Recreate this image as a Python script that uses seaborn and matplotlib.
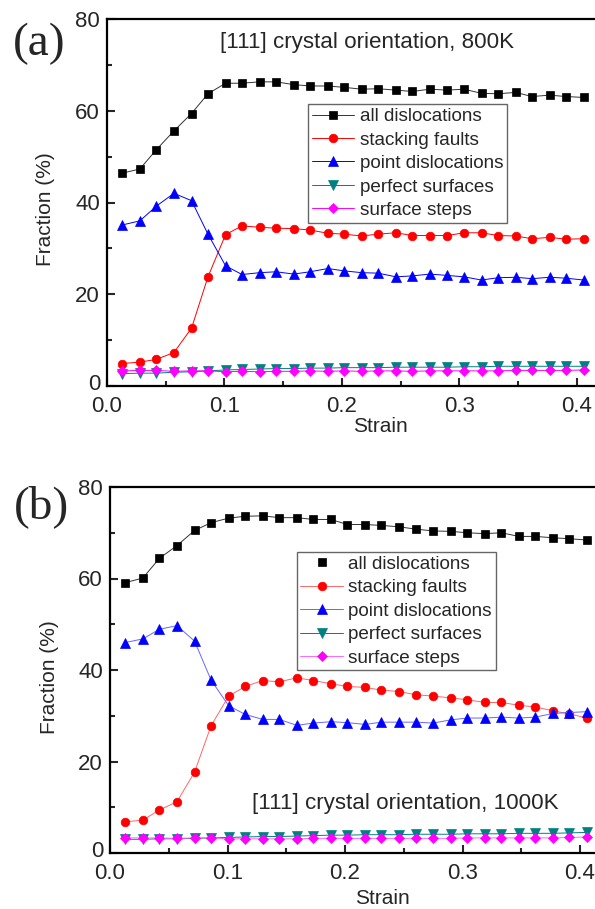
import matplotlib
matplotlib.use("Agg")
import matplotlib.pyplot as plt
from matplotlib.ticker import MultipleLocator, FormatStrFormatter, FixedLocator
from matplotlib.transforms import ScaledTranslation
import seaborn as sns

sns.set_style("white")
plt.rcParams['font.family'] = ['Liberation Sans', 'DejaVu Sans']

strain = [0.013, 0.028, 0.042, 0.057, 0.072, 0.086, 0.101, 0.115, 0.130, 0.144,
          0.159, 0.173, 0.188, 0.202, 0.217, 0.231, 0.246, 0.260, 0.275, 0.290,
          0.304, 0.319, 0.333, 0.348, 0.362, 0.377, 0.391, 0.406]

# panel (a) 800K
all_a = [46.4, 47.3, 51.5, 55.6, 59.4, 63.7, 66.0, 66.0, 66.3, 66.3, 65.7, 65.4, 65.4, 65.1,
         64.7, 64.8, 64.5, 64.2, 64.7, 64.5, 64.7, 63.8, 63.7, 64.0, 63.1, 63.4, 63.1, 62.9]
sf_a = [4.9, 5.2, 5.8, 7.3, 12.6, 23.8, 33.0, 34.9, 34.6, 34.4, 34.3, 34.0, 33.3, 33.1,
        32.7, 33.1, 33.4, 32.8, 32.8, 32.8, 33.4, 33.4, 32.8, 32.7, 32.1, 32.4, 32.0, 32.1]
pd_a = [35.1, 36.0, 39.2, 42.0, 40.4, 33.1, 26.2, 24.3, 24.7, 24.9, 24.4, 24.9, 25.6, 25.1,
        24.7, 24.6, 23.8, 24.0, 24.4, 24.1, 23.8, 23.1, 23.6, 23.7, 23.4, 23.7, 23.5, 23.1]
ps_a = [2.7, 2.8, 2.8, 3.0, 3.1, 3.3, 3.5, 3.6, 3.7, 3.8, 3.8, 3.9, 3.9, 4.0,
        4.0, 4.0, 4.1, 4.1, 4.1, 4.1, 4.2, 4.2, 4.3, 4.3, 4.3, 4.3, 4.3, 4.3]
ss_a = [3.3, 3.4, 3.4, 3.2, 3.3, 3.3, 3.1, 3.2, 3.1, 3.2, 3.2, 3.3, 3.2, 3.3,
        3.2, 3.3, 3.3, 3.2, 3.3, 3.3, 3.3, 3.3, 3.3, 3.4, 3.4, 3.4, 3.4, 3.5]

# panel (b) 1000K
all_b = [59.1, 60.1, 64.4, 67.2, 70.5, 72.2, 73.2, 73.6, 73.7, 73.3, 73.3, 72.9, 72.9, 71.8,
         71.8, 71.6, 71.3, 70.8, 70.4, 70.3, 70.0, 69.8, 70.0, 69.2, 69.2, 68.9, 68.7, 68.4]
sf_b = [6.8, 7.2, 9.4, 11.2, 17.7, 27.8, 34.3, 36.4, 37.7, 37.4, 38.3, 37.7, 37.0, 36.4,
        36.2, 35.6, 35.3, 34.6, 34.3, 33.9, 33.5, 32.9, 32.9, 32.3, 31.9, 31.1, 30.4, 29.5]
pd_b = [46.0, 46.8, 48.9, 49.7, 46.3, 37.8, 32.2, 30.3, 29.2, 29.2, 27.9, 28.4, 28.7, 28.5,
        28.1, 28.6, 28.6, 28.6, 28.4, 29.1, 29.5, 29.5, 29.7, 29.5, 29.7, 30.5, 30.7, 30.9]
ps_b = [3.0, 3.0, 3.1, 3.1, 3.2, 3.3, 3.4, 3.5, 3.6, 3.6, 3.7, 3.8, 3.9, 3.9,
        4.0, 4.0, 4.0, 4.1, 4.1, 4.1, 4.2, 4.2, 4.2, 4.3, 4.3, 4.3, 4.4, 4.5]
ss_b = [3.3, 3.3, 3.3, 3.2, 3.3, 3.3, 3.1, 3.1, 3.1, 3.1, 3.1, 3.2, 3.2, 3.2,
        3.2, 3.2, 3.2, 3.2, 3.2, 3.2, 3.3, 3.3, 3.3, 3.3, 3.3, 3.3, 3.4, 3.5]

labels = ["all dislocations", "stacking faults", "point dislocations",
          "perfect surfaces", "surface steps"]
colors = ["#000000", "#FF0000", "#0000FF", "#008080", "#FF00FF"]
markers = ["s", "o", "^", "v", "D"]
msizes = [5.2, 6.2, 7.0, 7.0, 5.6]
yticks = [0, 20, 40, 60, 80]

fig = plt.figure(figsize=(5.95, 9.09), dpi=100)
W, H = 595.0, 909.0

def make_axes(left_px, top_px, bottom_px, px_per_01):
    xmax = 0.42
    width_px = xmax / 0.1 * px_per_01
    ax = fig.add_axes([left_px / W, 1 - bottom_px / H, width_px / W, (bottom_px - top_px) / H])
    ax.set_xlim(0, xmax)
    ax.set_ylim(0, 80)
    return ax

ax_a = make_axes(107, 19, 386, 117.4)
ax_b = make_axes(110, 487, 853, 117.5)

def draw(ax, series, line_colors):
    for vals, lab, c, lc, m, ms in zip(series, labels, colors, line_colors, markers, msizes):
        sns.lineplot(x=strain, y=vals, ax=ax, color=lc, marker=m, markersize=ms,
                     markerfacecolor=c, markeredgecolor=c, markeredgewidth=0.5,
                     linewidth=0.7, label=lab)

draw(ax_a, [all_a, sf_a, pd_a, ps_a, ss_a], ["#333333", "#FF0000", "#0000FF", "#008080", "#FF00FF"])
draw(ax_b, [all_b, sf_b, pd_b, ps_b, ss_b], ["#333333", "#FF6666", "#6666FF", "#008080", "#FF66FF"])

for ax in (ax_a, ax_b):
    for s in ax.spines.values():
        s.set_linewidth(1.6)
        s.set_color("black")
    ax.xaxis.set_major_locator(MultipleLocator(0.1))
    ax.xaxis.set_minor_locator(MultipleLocator(0.05))
    ax.yaxis.set_major_locator(FixedLocator(yticks))
    ax.yaxis.set_minor_locator(MultipleLocator(10))
    ax.set_yticks(yticks)
    ax.set_yticklabels([str(v) for v in yticks])
    ax.xaxis.set_major_formatter(FormatStrFormatter("%.1f"))
    ax.tick_params(which="both", direction="in", top=False, right=False,
                   bottom=True, left=True, width=1.5, labelsize=16)
    ax.tick_params(axis="y", pad=5)
    ax.tick_params(axis="x", pad=7)
    ax.tick_params(which="major", length=6)
    ax.tick_params(which="minor", length=3.5)
    ax.set_xlabel("Strain", fontsize=15)
    ax.set_ylabel("Fraction (%)", fontsize=15)
    # nudge the "0" y label slightly upward so it clears the "0.0" x label
    lab0 = ax.yaxis.get_major_ticks()[0].label1
    lab0.set_transform(lab0.get_transform() + ScaledTranslation(0, 3 / 72, fig.dpi_scale_trans))

ax_a.xaxis.set_label_coords(0.555, -0.085)
ax_a.yaxis.set_label_coords(-0.105, 0.482)
ax_b.xaxis.set_label_coords(0.552, -0.099)
ax_b.yaxis.set_label_coords(-0.103, 0.481)

leg_kw = dict(fontsize=13.6, frameon=True, fancybox=False, framealpha=1, edgecolor="#666666",
              borderpad=0.2, labelspacing=0.33, handlelength=2.25, handletextpad=0.3,
              borderaxespad=0, loc="upper left", numpoints=1)
leg_a = ax_a.legend(bbox_to_anchor=(0.408, 0.768), **leg_kw)
leg_a.get_frame().set_linewidth(1.0)
leg_b = ax_b.legend(bbox_to_anchor=(0.378, 0.823), **leg_kw)
leg_b.get_frame().set_linewidth(1.0)
leg_b.get_lines()[0].set_linestyle("none")

ax_a.text(0.229, 0.935, "[111] crystal orientation, 800K", transform=ax_a.transAxes,
          fontsize=16.1, ha="left", va="center")
ax_b.text(0.287, 0.1365, "[111] crystal orientation, 1000K", transform=ax_b.transAxes,
          fontsize=16.1, ha="left", va="center")

fig.text(39.5 / W, 1 - 43.5 / H, "(a)", family=["Liberation Serif", "DejaVu Serif"],
         fontsize=34, ha="center", va="center")
fig.text(42 / W, 1 - 506.5 / H, "(b)", family=["Liberation Serif", "DejaVu Serif"],
         fontsize=34, ha="center", va="center")

fig.savefig("out.png", dpi=100)
